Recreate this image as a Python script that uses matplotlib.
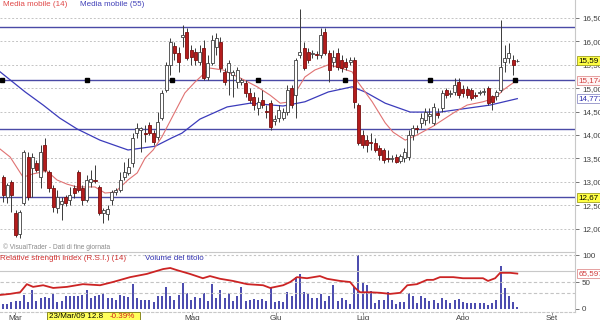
import matplotlib
matplotlib.use('Agg')
import matplotlib.pyplot as plt
import matplotlib.transforms as mtransforms
from matplotlib.patches import Rectangle

plt.rcParams['font.family'] = ['Liberation Sans', 'DejaVu Sans']

# ---------------- data ----------------
opens = [13.10,12.68,13.00,12.33,11.88,12.55,13.53,13.30,13.40,13.10,
         13.79,13.21,12.87,12.44,12.52,12.67,12.61,12.87,13.21,12.87,
         12.61,12.99,13.04,12.89,12.33,12.31,12.61,12.78,12.82,13.10,
         13.19,13.40,14.04,14.11,14.04,14.21,14.04,13.96,14.36,14.96,
         15.50,15.90,15.75,16.09,16.20,15.82,15.77,15.56,15.86,15.24,
         15.54,15.88,15.99,15.35,15.35,15.28,15.13,15.13,15.11,14.90,
         14.81,14.58,14.75,14.51,14.68,14.30,14.36,14.36,14.49,15.00,
         14.85,15.71,15.86,15.77,15.73,15.73,15.71,16.20,15.75,15.56,
         15.75,15.60,15.56,15.56,15.60,14.64,14.00,13.89,13.85,13.83,
         13.72,13.68,13.51,13.49,13.53,13.45,13.51,13.53,14.00,14.15,
         14.26,14.32,14.41,14.26,14.47,14.58,14.96,14.88,14.92,15.13,
         14.99,14.99,14.96,14.86,14.90,14.92,15.00,14.83,14.83,14.96,
         15.56,15.65,15.60,15.58]
highs = [13.15,12.97,13.04,12.40,12.40,13.68,13.64,13.62,13.47,13.79,
         13.94,13.25,12.93,12.82,12.67,12.72,12.89,12.93,13.25,12.93,
         13.15,13.25,13.36,12.93,12.44,12.50,12.82,12.87,13.21,13.42,
         13.51,14.04,14.26,14.17,14.21,14.28,14.11,14.49,14.96,15.56,
         16.07,15.99,15.88,16.35,16.29,15.92,15.86,15.92,16.03,15.71,
         16.14,16.18,16.09,15.43,15.60,15.39,15.45,15.22,15.18,15.00,
         14.92,14.81,14.96,14.64,14.75,14.43,14.64,14.58,15.07,15.07,
         15.65,16.69,15.99,15.86,15.82,15.80,16.29,16.29,15.82,15.82,
         15.86,15.71,15.65,15.67,15.67,14.68,14.11,14.00,14.04,13.94,
         13.79,13.72,13.68,13.57,13.60,13.60,13.72,14.11,14.21,14.21,
         14.47,14.58,14.58,14.68,14.58,14.96,15.00,14.96,15.22,15.22,
         15.07,15.04,15.00,14.92,14.96,15.00,15.04,14.86,14.96,16.46,
         15.92,15.97,15.71,15.63]
lows = [12.57,12.55,12.35,11.82,11.80,12.50,12.62,12.68,13.20,12.87,
        13.20,12.78,12.35,12.33,12.18,12.48,12.50,12.65,12.78,12.50,
        12.57,12.89,12.97,12.29,12.12,12.18,12.50,12.72,12.78,13.04,
        13.15,13.32,13.94,13.64,13.85,14.00,13.79,13.89,14.32,14.92,
        15.28,15.60,15.35,15.88,15.60,15.50,15.50,15.50,15.18,15.18,
        15.50,15.71,15.35,15.07,14.85,14.81,15.00,15.07,14.81,14.68,
        14.53,14.43,14.58,14.36,14.11,14.21,14.28,14.32,14.43,14.58,
        14.36,15.65,15.39,15.54,15.65,15.63,15.65,15.71,15.13,15.45,
        15.39,15.35,15.39,15.50,14.58,13.79,13.72,13.64,13.68,13.64,
        13.47,13.40,13.42,13.42,13.40,13.40,13.42,13.47,13.89,14.04,
        14.15,14.21,14.26,14.21,14.36,14.49,14.79,14.81,14.85,14.79,
        14.81,14.79,14.75,14.79,14.85,14.86,14.64,14.53,14.75,14.92,
        15.35,15.54,15.28,15.56]
closes = [12.72,12.93,12.72,11.86,12.35,13.64,12.68,13.53,13.25,13.64,
          13.25,12.87,12.46,12.67,12.60,12.55,12.72,12.76,12.82,12.61,
          13.04,13.06,13.02,12.33,12.40,12.42,12.78,12.82,13.04,13.21,
          13.32,13.94,14.15,14.15,14.02,14.04,13.85,14.28,14.90,15.50,
          15.99,15.75,15.56,16.14,15.65,15.67,15.60,15.77,15.22,15.54,
          16.03,16.07,15.43,15.13,15.54,15.35,15.39,15.18,14.90,14.75,
          14.64,14.71,14.64,14.49,14.17,14.34,14.53,14.49,14.96,14.64,
          15.60,15.77,15.43,15.60,15.75,15.71,16.14,15.75,15.39,15.67,
          15.45,15.43,15.45,15.60,14.71,13.83,13.79,13.79,13.83,13.68,
          13.57,13.47,13.49,13.51,13.42,13.55,13.64,14.00,14.15,14.13,
          14.36,14.49,14.45,14.60,14.43,14.90,14.85,14.90,15.07,14.85,
          14.90,14.85,14.79,14.84,14.92,14.94,14.68,14.70,14.92,15.45,
          15.65,15.75,15.50,15.59]
volumes = [15,15,22,25,25,45,22,60,25,35,
           37,35,47,22,25,42,42,42,42,45,
           60,35,40,45,50,35,35,30,45,42,
           38,78,35,28,28,28,22,42,42,70,
           42,30,45,82,52,30,38,35,50,25,
           80,35,60,35,50,25,40,70,25,28,
           32,28,32,25,70,22,25,22,55,40,
           100,110,55,48,35,35,48,25,40,75,
           25,35,30,15,70,172,85,75,58,18,
           28,28,55,30,15,22,22,50,42,20,
           40,35,25,28,18,35,28,20,28,32,
           22,20,20,20,20,18,12,18,30,135,
           65,42,22,5]

ma14_idx = [-0.7,1.7,4.8,7.2,10.5,12.9,15.3,17.7,22.0,24.4,26.8,29.9,32.1,34.0,35.9,38.0,
            41.1,43.5,45.9,49.5,52.6,56.7,60.8,63.9,66.3,68.7,69.9,72.2,74.6,77.8,80.1,
            83.5,84.9,88.3,91.4,93.3,96.2,99.0,102.9,107.7,111.0,114.8,117.7,119.6,121.3,123.0]
ma14_val = [13.70,13.53,13.10,13.17,13.23,13.04,12.95,12.89,12.89,12.76,12.78,13.04,13.19,13.51,
            13.68,13.96,14.49,14.90,15.13,15.43,15.39,15.22,15.03,14.85,14.68,14.71,14.90,15.24,
            15.39,15.50,15.45,15.35,15.13,14.71,14.26,14.06,13.89,14.00,14.19,14.47,14.64,14.71,
            14.79,14.96,15.07,15.174]
ma55_idx = [-0.7,5.3,9.6,13.6,17.7,23.2,29.9,36.4,40.4,42.8,47.1,53.6,59.1,67.0,72.2,77.8,
            83.5,86.6,91.4,97.4,104.5,111.7,116.5,123.0]
ma55_val = [15.35,14.92,14.64,14.36,14.13,13.89,13.68,13.76,13.94,14.04,14.34,14.60,14.68,14.62,
            14.71,14.92,15.03,14.92,14.68,14.49,14.49,14.58,14.64,14.777]
rsi_idx = [-0.7,1.7,4.1,5.7,7.2,9.6,12.0,15.3,19.1,23.2,26.3,30.4,34.4,38.3,40.0,41.6,44.7,
           47.8,49.5,51.9,55.0,58.4,62.2,63.9,67.0,68.7,70.3,72.7,75.8,77.5,80.6,83.0,84.2,
           85.4,87.8,90.2,92.6,95.0,96.7,99.0,101.4,102.9,104.5,107.7,110.0,113.4,114.8,
           116.0,117.7,118.9,121.3,123.0]
rsi_val = [26,28,31,46,41,44,39,41,46,44,50,59,65,74,76,72,65,57,61,56,52,46,44,39,44,50,
           59,57,61,56,52,50,39,31,31,30,28,30,44,46,54,54,59,59,57,57,57,52,57,67,67,65.597]

level_lines = [16.31, 15.174, 14.13, 12.67]
marker_idx = [-0.3, 20.1, 40.4, 61.0, 81.8, 102.2, 122.5]
marker_level = 15.174
price_ticks = [12.0, 12.5, 13.0, 13.5, 14.0, 14.5, 15.0, 15.5, 16.0, 16.5]
rsi_ticks = [0, 50, 100]
month_labels = ['Mar', 'Mag', 'Giu', 'Lug', 'Ago', 'Set']
month_pos = [2.9, 45.2, 65.3, 86.1, 110.0, 131.3]
date_box_text = '23/Mar/09 12.8'
date_box_change = '-0.39%'

# ---------------- figure ----------------
W, H = 600, 320
fig = plt.figure(figsize=(W / 100, H / 100), dpi=100)
fig.patch.set_facecolor('white')
ax = fig.add_axes([0, 1 - 252 / H, 575 / W, 252 / H])
axr = fig.add_axes([0, 1 - 312 / H, 575 / W, 60 / H], sharex=ax)

XL = (-0.72, 136.8)
ax.set_xlim(*XL)
ax.set_ylim(11.50, 16.885)

FS = 5.8
TXT = '#404040'

# grid
for p in price_ticks:
    ax.axhline(p, color='#c4c4c4', lw=0.7, ls=(0, (2, 2)), zorder=0)
for lv in level_lines:
    ax.axhline(lv, color='#4a4aa6', lw=1.0, zorder=1)

# moving averages
ax.plot(ma55_idx, ma55_val, color='#3b3bbb', lw=0.9, zorder=2)
ax.plot(ma14_idx, ma14_val, color='#e07272', lw=0.8, zorder=2)

# candles
idx = list(range(len(opens)))
bw = 0.72
for i in idx:
    o, h, l, c = opens[i], highs[i], lows[i], closes[i]
    up = c >= o
    ax.vlines(i, l, h, color='#3a3a3a', lw=0.7, zorder=3)
    bottom = min(o, c)
    height = max(abs(c - o), 0.012)
    ax.bar(i, height, bottom=bottom, width=bw,
           color='white' if up else '#b41c1c',
           edgecolor='#404040' if up else '#7a1010', linewidth=0.6, zorder=4)

ax.plot(marker_idx, [marker_level] * len(marker_idx), ls='none', marker='s',
        ms=3.2, color='black', zorder=5, clip_on=False)

# axes cosmetics main
for s in ['top', 'left', 'bottom']:
    ax.spines[s].set_visible(False)
ax.spines['right'].set_color('#c8c8c8')
ax.yaxis.tick_right()
ax.set_yticks(price_ticks)
ax.set_yticklabels([f'{p:.2f}'.replace('.', ',') for p in price_ticks])
ax.tick_params(axis='y', colors='#606060', labelcolor=TXT, labelsize=FS, length=3, width=0.6, pad=2)
ax.tick_params(axis='x', bottom=False, labelbottom=False)

trans = mtransforms.blended_transform_factory(ax.transAxes, ax.transData)
def rlabel(axx, tr, y, s, fc, ec, tc):
    axx.text(1.006, y, s, transform=tr, ha='left', va='center', fontsize=FS, color=tc,
             bbox=dict(boxstyle='square,pad=0.12', fc=fc, ec=ec, lw=0.6), zorder=10, clip_on=False)

rlabel(ax, trans, closes[-1], f'{closes[-1]:.2f}'.replace('.', ','), '#ffff44', '#a0a020', 'black')
rlabel(ax, trans, ma14_val[-1], f'{ma14_val[-1]:.3f}'.replace('.', ','), '#fff4f4', '#e09090', '#d03c3c')
rlabel(ax, trans, ma55_val[-1], f'{ma55_val[-1]:.3f}'.replace('.', ','), 'white', '#9090c8', '#3030b0')
rlabel(ax, trans, level_lines[-1], f'{level_lines[-1]:.2f}'.replace('.', ','), '#ffff44', '#a0a020', 'black')

# legend-like texts
fig.text(3 / W, 1 - 1 / H, 'Media mobile (14)', color='#e04848', fontsize=FS, ha='left', va='top')
fig.text(80 / W, 1 - 1 / H, 'Media mobile (55)', color='#4040b8', fontsize=FS, ha='left', va='top')
fig.text(3 / W, 1 - 251 / H, '© VisualTrader - Dati di fine giornata', color='#8a8a8a',
         fontsize=4.8, ha='left', va='bottom')

# ---------------- lower panel ----------------
axr.set_ylim(-5.56, 105.6)
for v, st, col in [(100, (0, (2, 2)), '#c4c4c4'), (70, '-', '#c8c8c8'),
                   (50, (0, (3, 2)), '#c4c4c4'), (30, (0, (3, 2)), '#c4c4c4')]:
    axr.axhline(v, color=col, lw=0.8, ls=st, zorder=0)

axv = axr.twinx()
k = 1.71
axv.set_ylim(-5.56 * k, 105.6 * k)
axv.vlines(idx, 0, volumes, color='#2a2aa0', lw=1.2, zorder=2)
axv.set_yticks([])
for s in axv.spines.values():
    s.set_visible(False)

axr.plot(rsi_idx, rsi_val, color='#cc2424', lw=1.3, zorder=5)
axr.set_zorder(axv.get_zorder() + 1)
axr.patch.set_visible(False)

axr.spines['left'].set_visible(False)
axr.spines['top'].set_color('#c8c8c8')
axr.spines['right'].set_color('#c8c8c8')
axr.spines['bottom'].set_color('#c8c8c8')
axr.spines['bottom'].set_linestyle((0, (2, 2)))
axr.yaxis.tick_right()
axr.set_yticks(rsi_ticks)
axr.set_yticklabels([str(t) for t in rsi_ticks])
axr.tick_params(axis='y', colors='#606060', labelcolor=TXT, labelsize=FS, length=3, width=0.6, pad=2)
axr.set_xticks(month_pos)
axr.set_xticklabels(month_labels)
axr.tick_params(axis='x', colors='#808080', labelcolor=TXT, labelsize=FS, length=2, width=0.6, pad=0.5)

transr = mtransforms.blended_transform_factory(axr.transAxes, axr.transData)
rlabel(axr, transr, rsi_val[-1], f'{rsi_val[-1]:.3f}'.replace('.', ','), 'white', '#e09090', '#d03c3c')

fig.text(0 / W, 1 - 255 / H, 'Relative strength index (R.S.I.) (14)', color='#d03030',
         fontsize=FS, ha='left', va='top')
fig.text(145 / W, 1 - 255 / H, 'Volume del titolo', color='#3030b0',
         fontsize=FS, ha='left', va='top')

# date box at bottom
fig.patches.append(Rectangle((47 / W, 0), 93 / W, 8 / H, transform=fig.transFigure,
                             facecolor='#ffff5a', edgecolor='#8a8a20', lw=0.7, zorder=20))
fig.text(49 / W, 1 - 313 / H, date_box_text, color='black', fontsize=FS, ha='left', va='top', zorder=21)
fig.text(110 / W, 1 - 313 / H, date_box_change, color='#d02020', fontsize=FS, ha='left', va='top', zorder=21)

fig.savefig('out.png', dpi=100)
